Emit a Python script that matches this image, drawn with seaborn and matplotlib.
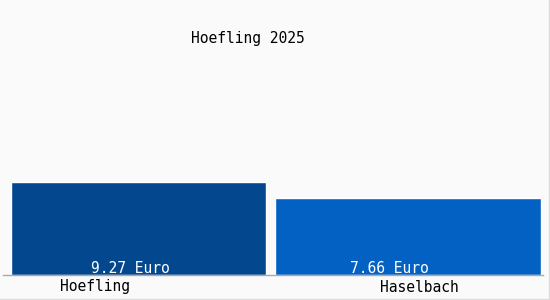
import matplotlib
matplotlib.use("Agg")
import matplotlib.pyplot as plt
import seaborn as sns
import pandas as pd

categories = ["Hoefling", "Haselbach"]
values = [9.27, 7.66]
value_labels = ["9.27 Euro", "7.66 Euro"]
title = "Hoefling 2025"
colors = ["#03478f", "#0461c4"]

sns.set_theme(style="white")
plt.rcParams['font.family'] = ['DejaVu Sans Mono']

df = pd.DataFrame({"cat": categories, "val": values})

W, H = 550.0, 300.0
fig = plt.figure(figsize=(5.5, 3.0), dpi=100)
fig.patch.set_facecolor("#fafafa")
ax_left, ax_w = 3.0, 540.0
ax = fig.add_axes([ax_left / W, 25 / H, ax_w / W, 275 / H])
ax.set_facecolor("#fafafa")
sns.barplot(data=df, x="cat", y="val", hue="cat", palette=colors, width=0.95,
            saturation=1, legend=False, ax=ax)
ax.set_xlim(-0.5, 1.5)
ax.set_ylim(0, 27.4)

# pixel extents of bars in the reference (layout only)
extents = [(10.5, 265.5), (274.5, 540.5)]
def px2data(px):
    return (px - ax_left) / (ax_w / 2.0) - 0.5
for p, (l, r) in zip(ax.patches, extents):
    p.set_x(px2data(l))
    p.set_width(px2data(r) - px2data(l))

for s in ["top", "right", "left"]:
    ax.spines[s].set_visible(False)
ax.spines["bottom"].set_color("#aaaaaa")
ax.spines["bottom"].set_linewidth(1)
ax.set_xticks([])
ax.set_yticks([])
ax.set_xlabel("")
ax.set_ylabel("")

fs = 10.5
# value labels
label_x = [130, 389]
for lx, lab in zip(label_x, value_labels):
    fig.text(lx / W, 1 - 273 / H, lab, ha="center", va="baseline", color="white", fontsize=fs)

# category labels
cat_x = [95, 419.5]
for cx, c in zip(cat_x, categories):
    fig.text(cx / W, 1 - 291.5 / H, c, ha="center", va="baseline", fontsize=fs, color="black")

fig.text(247.5 / W, 1 - 43 / H, title, ha="center", va="baseline", fontsize=fs, color="black")

# border lines right and bottom
fig.add_artist(plt.Line2D([548.5 / W, 548.5 / W], [0, 1], color="#dddddd", lw=1, transform=fig.transFigure))
fig.add_artist(plt.Line2D([0, 1], [1.5 / H, 1.5 / H], color="#dddddd", lw=1, transform=fig.transFigure))

fig.savefig("out.png", dpi=100, facecolor=fig.get_facecolor())
